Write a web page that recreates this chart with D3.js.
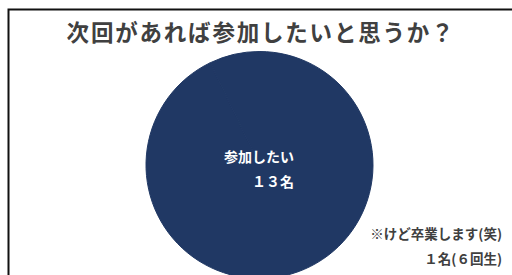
<!DOCTYPE html>
<html>
<head>
<meta charset="utf-8">
<script src="https://d3js.org/d3.v7.min.js"></script>
<style>
  html, body { margin: 0; padding: 0; background: #fff; overflow: hidden; }
  svg { display: block; font-family: "Noto Sans CJK JP", "Noto Sans", sans-serif; }
</style>
</head>
<body>
<svg></svg>
<script>
// --- DATA ---
const title = '次回があれば参加したいと思うか？';
const categories = ['参加したい', 'けど卒業します'];
const counts = [13, 1];
const mainLabel = ['参加したい', '１３名'];
const noteLabel = ['※けど卒業します(笑)', '１名(６回生)'];

// --- SETUP ---
const width = 512;
const height = 275;
const svg = d3.select('svg')
    .attr('width', width)
    .attr('height', height);

// chart frame (runs off the right and bottom edges)
svg.append('rect')
    .attr('x', 8.5)
    .attr('y', 9.5)
    .attr('width', 600)
    .attr('height', 400)
    .attr('fill', '#fff')
    .attr('stroke', '#111')
    .attr('stroke-width', 2);

svg.append('text')
    .attr('x', 261)
    .attr('y', 41)
    .attr('text-anchor', 'middle')
    .attr('fill', '#404040')
    .attr('font-size', 22.5)
    .attr('font-weight', 'bold')
    .attr('letter-spacing', 1.8)
    .text(title);

// --- PIE ---
const cx = 259.5, cy = 165, r = 113.5;
const pie = d3.pie().sort(null).value(d => d.value);
const arc = d3.arc().innerRadius(0).outerRadius(r);
const slices = pie(categories.map((c, i) => ({ name: c, value: counts[i] })));

// same colour for both slices, stroked so no seam shows
svg.append('g')
    .attr('transform', `translate(${cx},${cy})`)
    .selectAll('path')
    .data(slices)
    .enter().append('path')
    .attr('d', arc)
    .attr('fill', '#203864')
    .attr('stroke', '#203864')
    .attr('stroke-width', 1);

// --- LABELS ---
const inner = svg.append('text')
    .attr('text-anchor', 'end')
    .attr('fill', '#fff')
    .attr('font-size', 14)
    .attr('font-weight', 'bold');
mainLabel.forEach((t, i) => {
    inner.append('tspan')
        .attr('x', 294)
        .attr('y', 162 + i * 25)
        .text(t);
});

const note = svg.append('text')
    .attr('text-anchor', 'end')
    .attr('fill', '#404040')
    .attr('font-size', 13.5)
    .attr('font-weight', 'bold');
noteLabel.forEach((t, i) => {
    note.append('tspan')
        .attr('x', 502)
        .attr('y', 239 + i * 25)
        .text(t);
});
</script>
</body>
</html>
